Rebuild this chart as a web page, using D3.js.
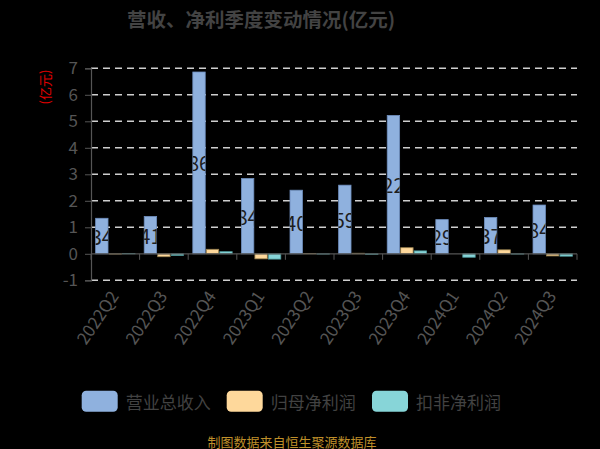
<!DOCTYPE html>
<html><head><meta charset="utf-8">
<script src="https://cdn.jsdelivr.net/npm/d3@7"></script>
<style>html,body{margin:0;padding:0;background:#000;}svg{display:block;}</style>
</head><body>
<script>
const categories = ["2022Q2","2022Q3","2022Q4","2023Q1","2023Q2","2023Q3","2023Q4","2024Q1","2024Q2","2024Q3"];
const revenue = [1.34, 1.41, 6.86, 2.84, 2.40, 2.59, 5.22, 1.29, 1.37, 1.84];
const netProfit = [-0.01, -0.11, 0.17, -0.19, 0.01, 0.02, 0.23, 0.00, 0.15, -0.08];
const deductedProfit = [0.01, -0.06, 0.08, -0.20, -0.01, -0.02, 0.11, -0.13, -0.01, -0.09];
const seriesNames = ["营业总收入","归母净利润","扣非净利润"];
const yTicks = [-1,0,1,2,3,4,5,6,7];
const title = "营收、净利季度变动情况(亿元)";
const unitLabel = "(亿元)";
const footer = "制图数据来自恒生聚源数据库";

const W = 600, H = 449;
const colors = ["#8fb1de","#fed89b","#87d5d8"];
const strokes = ["#6f8fbf","#9c8450","#4f9a9c"];
const font = "'Noto Sans CJK SC','Noto Sans',sans-serif";

const svg = d3.select("body").append("svg").attr("width",W).attr("height",H)
  .style("background","#000").style("font-family",font);
const defs = svg.append("defs");

const x0 = d3.scaleBand().domain(categories).range([91,577]);
const x1 = d3.scaleBand().domain(seriesNames).range([x0.bandwidth()*0.095, x0.bandwidth()*0.905]).paddingInner(0.08);
const y = d3.scaleLinear().domain([-1,7]).range([280.3,68.3]);

// title
svg.append("text").attr("x",261).attr("y",18).attr("text-anchor","middle")
  .attr("dominant-baseline","central").attr("font-size",19.5).attr("font-weight","bold")
  .attr("fill","#434343").text(title);

// y unit
svg.append("text").attr("transform","translate(44,87) rotate(-90)")
  .attr("text-anchor","middle").attr("dominant-baseline","central")
  .attr("font-size",13).attr("fill","#e00000").text(unitLabel);

// gridlines
svg.append("g").selectAll("line").data(yTicks.filter(d=>d!==0)).join("line")
  .attr("x1",91).attr("x2",577).attr("y1",d=>y(d)).attr("y2",d=>y(d))
  .attr("stroke","#cfcfcf").attr("stroke-width",1.6).attr("stroke-dasharray","7,5");

// y axis
const yAxis = d3.axisLeft(y).tickValues(yTicks).tickSize(6).tickPadding(7).tickFormat(d=>String(d));
const gy = svg.append("g").attr("transform","translate(91,0)").call(yAxis);
gy.select(".domain").attr("stroke","#555").attr("stroke-width",1.2);
gy.selectAll(".tick line").attr("stroke","#555");
gy.selectAll(".tick text").attr("fill","#555").attr("font-size",17).attr("font-family",font);

// bars
const data = categories.map((c,i)=>({c, i, vals:[revenue[i],netProfit[i],deductedProfit[i]]}));
const groups = svg.append("g").selectAll("g").data(data).join("g")
  .attr("transform",d=>`translate(${x0(d.c)},0)`);
groups.selectAll("rect").data(d=>d.vals.map((v,k)=>({v,k,s:seriesNames[k]}))).join("rect")
  .attr("x",d=>x1(d.s)).attr("width",x1.bandwidth())
  .attr("y",d=>Math.min(y(d.v),y(0))).attr("height",d=>Math.abs(y(d.v)-y(0)))
  .attr("fill",d=>colors[d.k]).attr("stroke",d=>d.v===0?"none":strokes[d.k]).attr("stroke-width",0.8);

// value labels: dark text, visible only where it lies over its bar
groups.each(function(d){
  const v = d.vals[0];
  const s = d3.format(".2f")(v);
  const bx = x1(seriesNames[0]), bw = x1.bandwidth();
  const id = "clip"+d.i;
  defs.append("clipPath").attr("id",id).append("rect")
    .attr("x",bx).attr("width",bw)
    .attr("y",Math.min(y(v),y(0))).attr("height",Math.abs(y(v)-y(0)));
  const lab = svg.append("g").attr("transform",`translate(${x0(d.c)},0)`)
    .append("g").attr("clip-path",`url(#${id})`);
  const t = lab.append("text").attr("font-size",20).attr("fill","#1e1e1e")
    .attr("dominant-baseline","central").attr("y",(y(v)+y(0))/2).text(s);
  const tmp = lab.append("text").attr("font-size",20).text(s.slice(0,-1));
  const pre = tmp.node().getComputedTextLength();
  tmp.remove();
  t.attr("x", bx + bw/2 - pre);
});

// x axis at zero
const gx = svg.append("g").attr("transform",`translate(0,${y(0)})`);
gx.append("line").attr("x1",91).attr("x2",577).attr("stroke","#555").attr("stroke-width",1.2);
const bounds = categories.map(c=>x0(c)).concat([x0.range()[1]]);
gx.selectAll("line.tk").data(bounds).join("line").attr("class","tk")
  .attr("x1",d=>d).attr("x2",d=>d).attr("y1",0).attr("y2",6).attr("stroke","#555");

// x labels
svg.append("g").selectAll("text").data(categories).join("text")
  .attr("transform",d=>`translate(${x0(d)+x0.bandwidth()/2-2},${292}) rotate(-56)`)
  .attr("text-anchor","end").attr("dominant-baseline","central")
  .attr("font-size",17).attr("fill","#555").text(d=>d);

// legend
const legX = [81.7,226.7,372];
const lg = svg.append("g").selectAll("g").data(seriesNames).join("g")
  .attr("transform",(d,i)=>`translate(${legX[i]},390.7)`);
lg.append("rect").attr("width",36).attr("height",21).attr("rx",4.5)
  .attr("fill",(d,i)=>colors[i]);
lg.append("text").attr("x",44).attr("y",10.5).attr("dominant-baseline","central")
  .attr("font-size",17).attr("fill","#424242").text(d=>d);

// footer
svg.append("text").attr("x",292).attr("y",441).attr("text-anchor","middle")
  .attr("dominant-baseline","central").attr("font-size",13).attr("fill","#bf8f2a").text(footer);
</script>
</body></html>
